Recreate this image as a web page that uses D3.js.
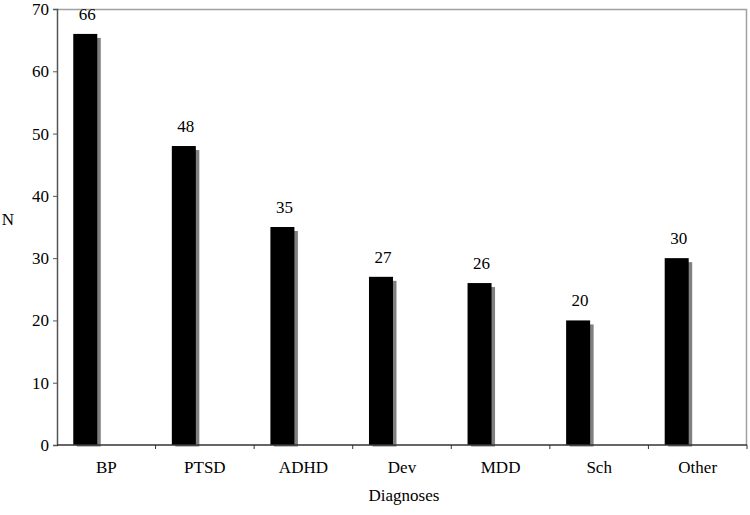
<!DOCTYPE html>
<html>
<head>
<meta charset="utf-8">
<script src="https://cdn.jsdelivr.net/npm/d3@7"></script>
<style>
  body { margin: 0; background: #fff; }
  svg text { font-family: "Liberation Serif", serif !important; }
</style>
</head>
<body>
<div id="chart"></div>
<script>
const categories = ["BP", "PTSD", "ADHD", "Dev", "MDD", "Sch", "Other"];
const counts = [66, 48, 35, 27, 26, 20, 30];
const yTicks = [0, 10, 20, 30, 40, 50, 60, 70];

const W = 750, H = 515;
const margin = {top: 9, right: 3, bottom: 70, left: 57};
const width = W - margin.left - margin.right;
const height = H - margin.top - margin.bottom;
const serif = "Liberation Serif, serif";

const svg = d3.select("#chart").append("svg")
    .attr("width", W)
    .attr("height", H)
    .style("font-family", serif);

const g = svg.append("g")
    .attr("transform", "translate(" + margin.left + "," + margin.top + ")");

const xScale = d3.scaleBand().domain(categories).range([0, width]).padding(0);
const yScale = d3.scaleLinear().domain([0, 70]).range([height, 0]);

const barOffset = xScale.bandwidth() * 0.165;
const barWidth = 24;

// plot frame (top and right, gray)
g.append("path")
    .attr("d", "M0,0.5H" + (width - 0.5) + "V" + height)
    .attr("fill", "none")
    .attr("stroke", "#a0a0a0")
    .attr("stroke-width", 1.5);

// shadows
g.selectAll(".shadow")
    .data(counts)
    .join("rect")
    .attr("class", "shadow")
    .attr("x", (d, i) => xScale(categories[i]) + barOffset + 3.5)
    .attr("y", d => yScale(d) + 4)
    .attr("width", barWidth)
    .attr("height", d => height - yScale(d) - 2.5)
    .attr("fill", "#808080");

// bars
g.selectAll(".bar")
    .data(counts)
    .join("rect")
    .attr("class", "bar")
    .attr("x", (d, i) => xScale(categories[i]) + barOffset)
    .attr("y", d => yScale(d))
    .attr("width", barWidth)
    .attr("height", d => height - yScale(d))
    .attr("fill", "#000");

// value labels
g.selectAll(".val")
    .data(counts)
    .join("text")
    .attr("class", "val")
    .attr("x", (d, i) => xScale(categories[i]) + barOffset + barWidth / 2 + 2)
    .attr("y", d => yScale(d) - 14)
    .attr("text-anchor", "middle")
    .style("font-family", serif)
    .style("font-size", "17px")
    .text(d => d);

// y axis
const yAxis = g.append("g")
    .attr("class", "yAxisG")
    .call(d3.axisLeft(yScale).tickValues(yTicks).tickSize(4).tickPadding(4));
yAxis.attr("font-family", null).attr("font-size", null);
yAxis.select(".domain").attr("stroke", "#555").attr("stroke-width", 1.5);
yAxis.selectAll(".tick line").attr("stroke", "#555");
yAxis.selectAll("text")
    .style("font-family", serif)
    .style("font-size", "17px")
    .attr("fill", "#000");

// x axis: ticks at band boundaries
const xAxisG = g.append("g")
    .attr("transform", "translate(0," + height + ")");
xAxisG.append("line")
    .attr("x1", 0).attr("x2", width)
    .attr("stroke", "#333").attr("stroke-width", 1.5);
xAxisG.selectAll(".xtick")
    .data(categories)
    .join("line")
    .attr("class", "xtick")
    .attr("x1", d => xScale(d) + xScale.bandwidth())
    .attr("x2", d => xScale(d) + xScale.bandwidth())
    .attr("y1", 0).attr("y2", 4)
    .attr("stroke", "#333");
xAxisG.selectAll(".xlab")
    .data(categories)
    .join("text")
    .attr("class", "xlab")
    .attr("x", d => xScale(d) + xScale.bandwidth() / 2)
    .attr("y", 28)
    .attr("text-anchor", "middle")
    .style("font-family", serif)
    .style("font-size", "17px")
    .text(d => d);

// axis titles
svg.append("text")
    .attr("x", 404)
    .attr("y", 501)
    .attr("text-anchor", "middle")
    .style("font-family", serif)
    .style("font-size", "17px")
    .text("Diagnoses");

svg.append("text")
    .attr("x", 8)
    .attr("y", 225)
    .attr("text-anchor", "middle")
    .style("font-family", serif)
    .style("font-size", "17px")
    .text("N");
</script>
</body>
</html>
